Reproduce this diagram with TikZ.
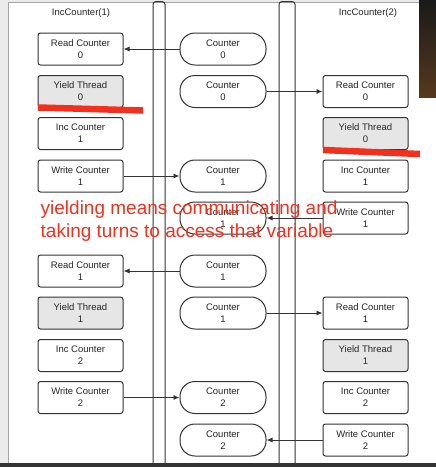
\documentclass[tikz,border=0pt]{standalone}
\usepackage{fontspec}
\setmainfont{Liberation Sans}
\usetikzlibrary{arrows.meta}
\definecolor{linegray}{HTML}{333333}
\definecolor{yieldfill}{HTML}{E6E6E6}
\definecolor{notered}{HTML}{F2301E}

\begin{document}
\begin{tikzpicture}[x=1pt, y=-1pt,
    every node/.style={font=\fontsize{9.5}{12}\selectfont, text=black!85},
    stepbox/.style={draw=linegray, line width=1pt, rounded corners=2.5pt,
        minimum width=85pt, minimum height=32pt, inner sep=0pt, align=center, fill=white},
    yieldbox/.style={stepbox, fill=yieldfill},
    counterbox/.style={draw=linegray, line width=1pt, rounded corners=15pt,
        minimum width=86pt, minimum height=32pt, inner sep=0pt, align=center, fill=white},
    flow/.style={-{Latex[length=6pt, width=5pt]}, line width=0.9pt, linegray},
    redline/.style={notered, line width=6.5pt}]
    \useasboundingbox (0,0) rectangle (436,467);

    % Window background
    \fill[black!8] (0,0) rectangle (436,467);
    \fill[white] (8,2) rectangle (436,463);
    \draw[black!35, line width=0.8pt] (8,463) -- (8,2) -- (419,2);
    \shade[top color=black!90, bottom color=brown!45!black] (419,0) rectangle (436,97);
    \fill[black!80] (0,463) rectangle (436,467);

    % Lanes between the threads
    \draw[linegray, line width=1pt, rounded corners=3pt] (153,463) -- (153,1.5) -- (165,1.5) -- (165,463);
    \draw[linegray, line width=1pt, rounded corners=3pt] (279,463) -- (279,1.5) -- (295,1.5) -- (295,463);

    % Thread titles
    \node (t1) at (81,13.5) {IncCounter(1)};
    \node (t2) at (368,13.5) {IncCounter(2)};

    % Left thread
    \node[stepbox]  (l1) at (80.5,49)    {Read Counter\\0};
    \node[yieldbox] (l2) at (80.5,91.5)  {Yield Thread\\0};
    \node[stepbox]  (l3) at (80.5,133.5) {Inc Counter\\1};
    \node[stepbox]  (l4) at (80.5,176)   {Write Counter\\1};
    \node[stepbox]  (l5) at (80.5,271)   {Read Counter\\1};
    \node[yieldbox] (l6) at (80.5,313)   {Yield Thread\\1};
    \node[stepbox]  (l7) at (80.5,355.5) {Inc Counter\\2};
    \node[stepbox]  (l8) at (80.5,397.5) {Write Counter\\2};

    % Shared counter
    \node[counterbox] (m1) at (223,49)    {Counter\\0};
    \node[counterbox] (m2) at (223,91.5)  {Counter\\0};
    \node[counterbox] (m3) at (223,176)   {Counter\\1};
    \node[counterbox] (m4) at (223,218)   {Counter\\1};
    \node[counterbox] (m5) at (223,271)   {Counter\\1};
    \node[counterbox] (m6) at (223,313)   {Counter\\1};
    \node[counterbox] (m7) at (223,397.5) {Counter\\2};
    \node[counterbox] (m8) at (223,440)   {Counter\\2};

    % Right thread
    \node[stepbox]  (r1) at (365.5,91.5)  {Read Counter\\0};
    \node[yieldbox] (r2) at (365.5,133.5) {Yield Thread\\0};
    \node[stepbox]  (r3) at (365.5,176)   {Inc Counter\\1};
    \node[stepbox]  (r4) at (365.5,218)   {Write Counter\\1};
    \node[stepbox]  (r5) at (365.5,313)   {Read Counter\\1};
    \node[yieldbox] (r6) at (365.5,355.5) {Yield Thread\\1};
    \node[stepbox]  (r7) at (365.5,397.5) {Inc Counter\\2};
    \node[stepbox]  (r8) at (365.5,440)   {Write Counter\\2};

    % Reads and writes
    \draw[flow] (m1.west) -- (l1.east);
    \draw[flow] (m2.east) -- (r1.west);
    \draw[flow] (l4.east) -- (m3.west);
    \draw[flow] (r4.west) -- (m4.east);
    \draw[flow] (m5.west) -- (l5.east);
    \draw[flow] (m6.east) -- (r5.west);
    \draw[flow] (l8.east) -- (m7.west);
    \draw[flow] (r8.west) -- (m8.east);

    % Hand-drawn marks
    \draw[redline] (38,107.5) -- (143,110.5);
    \draw[redline] (323,150) -- (420,154);
    \node[anchor=base west, inner sep=0pt, text=notered, align=left,
        font=\fontsize{19}{23}\selectfont] (note) at (40.5,237)
        {yielding means communicating and\\taking turns to access that variable};
\end{tikzpicture}
\end{document}
